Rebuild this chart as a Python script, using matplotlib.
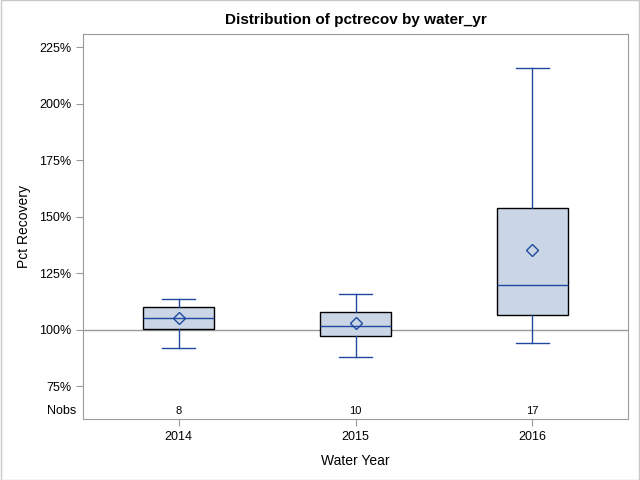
import matplotlib
matplotlib.use("Agg")
import matplotlib.pyplot as plt
import matplotlib.transforms as mtransforms
from matplotlib.ticker import FuncFormatter

plt.rcParams['font.family'] = ['Liberation Sans', 'DejaVu Sans']

# data (percent)
years = ['2014', '2015', '2016']
nobs = [8, 10, 17]
whisk_lo = [91.9, 87.9, 94.1]
q1 = [100.1, 97.2, 106.5]
medians = [105.2, 101.6, 119.8]
means = [104.9, 103.1, 135.3]
q3 = [110.0, 107.8, 153.8]
whisk_hi = [113.6, 115.8, 215.8]
y_ticks = [75, 100, 125, 150, 175, 200, 225]

blue = '#1f4aa0'
grey = '#9a9a9a'

fig = plt.figure(figsize=(6.4, 4.8), dpi=100)
ax = fig.add_axes([0.1297, 0.127, 0.8516, 0.802])

stats = []
for i in range(len(years)):
    stats.append(dict(whislo=whisk_lo[i], q1=q1[i], med=medians[i], mean=means[i],
                      q3=q3[i], whishi=whisk_hi[i], fliers=[], label=years[i]))

positions = list(range(1, len(years) + 1))
ax.axhline(100, color=grey, lw=1, zorder=1)
ax.bxp(stats, positions=positions, widths=0.40, capwidths=0.19, showmeans=True,
       patch_artist=True, zorder=2,
       boxprops=dict(facecolor='#cad5e5', edgecolor='black', linewidth=1.0),
       medianprops=dict(color=blue, linewidth=1.0),
       whiskerprops=dict(color=blue, linewidth=1.0),
       capprops=dict(color=blue, linewidth=1.0),
       meanprops=dict(marker='D', markerfacecolor='none', markeredgecolor=blue,
                      markersize=6, markeredgewidth=1.0))

ax.set_xlim(0.46, 3.54)
ax.set_ylim(60.4, 230.75)
ax.set_yticks(y_ticks)
ax.yaxis.set_major_formatter(FuncFormatter(lambda v, p: f'{v:.0f}%'))
ax.set_xticks(positions)
ax.set_xticklabels(years)

for s in ax.spines.values():
    s.set_color(grey)
ax.tick_params(colors=grey, labelcolor='black', labelsize=9, length=5)

# Nobs row inside the plot area
trans = mtransforms.blended_transform_factory(ax.transData, ax.transAxes)
for p, n in zip(positions, nobs):
    ax.text(p, 0.008, str(n), transform=trans, ha='center', va='bottom', fontsize=8)
ax.text(-0.012, 0.006, 'Nobs', transform=ax.transAxes, ha='right', va='bottom', fontsize=9)

ax.set_xlabel('Water Year', fontsize=10, labelpad=8)
ax.set_ylabel('Pct Recovery', fontsize=10, labelpad=6)
ax.set_title('Distribution of pctrecov by water_yr', fontsize=11, fontweight='bold', pad=7)

# light frame around the whole image
fig.patches.append(plt.Rectangle((0.001, 0.001), 0.998, 0.998, transform=fig.transFigure,
                                 fill=False, edgecolor='#c8c8c8', lw=1))

fig.savefig('out.png', dpi=100)
